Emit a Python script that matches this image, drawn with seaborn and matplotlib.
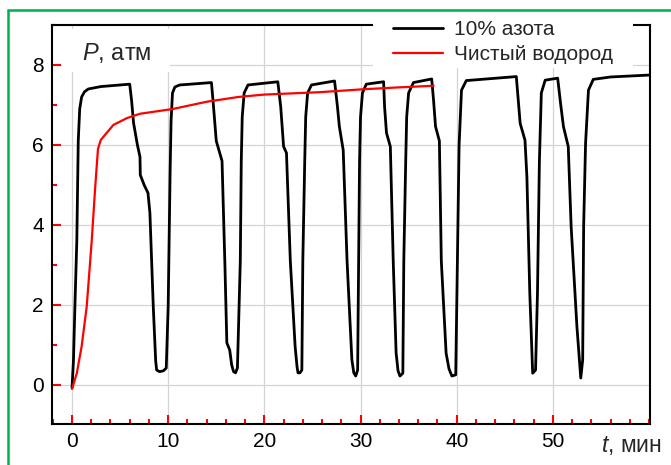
import numpy as np
import pandas as pd
import matplotlib
matplotlib.use("Agg")
import matplotlib.pyplot as plt
from matplotlib.patches import Rectangle
from matplotlib.ticker import MultipleLocator
import seaborn as sns

# Pressure during cyclic filling with a 10 % nitrogen mixture
t_nitrogen = [0.0, 0.15, 0.3, 0.5, 0.65, 0.8, 1.0, 1.3, 1.7, 3.0, 6.0,
              6.2, 6.4, 6.8, 7.07, 7.1, 7.5, 7.9, 8.1, 8.45, 8.7, 8.8, 9.1, 9.5, 9.8,
              10.0, 10.2, 10.3, 10.45, 10.7, 11.2, 14.5,
              14.7, 15.0, 15.6, 15.9, 16.1, 16.4, 16.6, 16.8, 17.0, 17.2,
              17.5, 17.6, 17.7, 17.9, 18.3, 21.4,
              21.7, 22.0, 22.3, 22.7, 23.2, 23.4, 23.5, 23.7, 23.9,
              24.0, 24.2, 24.3, 24.5, 24.9, 27.3,
              27.6, 27.8, 28.2, 28.6, 29.1, 29.3, 29.5, 29.7,
              29.8, 29.9, 30.0, 30.2, 30.6, 32.4,
              32.5, 32.7, 33.1, 33.4, 33.7, 33.9, 34.1, 34.4,
              34.5, 34.7, 34.8, 35.0, 35.5, 37.4,
              37.6, 37.8, 38.2, 38.4, 38.9, 39.2, 39.5, 39.9,
              40.1, 40.25, 40.5, 41.0, 46.2,
              46.6, 47.1, 47.3, 47.6, 47.9, 48.2,
              48.4, 48.6, 48.8, 49.2, 50.5,
              50.8, 51.1, 51.6, 51.9, 52.5, 52.9,
              53.1, 53.2, 53.4, 53.7, 54.2, 56.0, 60.2]
p_nitrogen = [-0.08, 0.6, 1.95, 3.6, 6.1, 6.9, 7.2, 7.33, 7.4, 7.46, 7.52,
              7.1, 6.55, 6.0, 5.7, 5.25, 5.0, 4.8, 4.3, 1.96, 0.6, 0.37, 0.33, 0.35, 0.42,
              1.96, 5.3, 6.6, 7.3, 7.45, 7.5, 7.56,
              7.0, 6.1, 5.6, 3.0, 1.05, 0.87, 0.5, 0.33, 0.3, 0.42,
              3.1, 5.6, 6.7, 7.3, 7.5, 7.58,
              6.96, 5.96, 5.8, 3.1, 0.96, 0.45, 0.3, 0.3, 0.37,
              3.1, 5.6, 6.7, 7.3, 7.5, 7.6,
              6.96, 6.46, 5.87, 3.1, 0.63, 0.3, 0.22, 0.37,
              3.1, 5.6, 6.7, 7.3, 7.52, 7.58,
              6.96, 6.3, 5.96, 3.1, 0.8, 0.35, 0.22, 0.29,
              3.1, 5.6, 6.7, 7.3, 7.56, 7.65,
              7.1, 6.46, 6.1, 3.1, 0.79, 0.4, 0.22, 0.25,
              3.5, 6.0, 7.37, 7.61, 7.71,
              6.54, 6.12, 5.2, 2.3, 0.29, 0.37,
              2.3, 5.6, 7.3, 7.62, 7.67,
              7.04, 6.46, 5.96, 3.96, 1.46, 0.17,
              0.62, 3.96, 6.04, 7.37, 7.64, 7.70, 7.75]

# Pressure during filling with pure hydrogen
t_hydrogen = [0.0, 0.5, 1.0, 1.53, 2.05, 2.4, 2.7, 2.98, 3.6, 4.3, 5.7, 7.07,
              10.5, 14.0, 17.3, 20.0, 25.8, 30.1, 34.0, 37.6]
p_hydrogen = [-0.1, 0.29, 0.96, 1.96, 3.6, 4.9, 5.9, 6.12, 6.3, 6.5, 6.67, 6.78,
              6.9, 7.08, 7.2, 7.26, 7.32, 7.39, 7.44, 7.48]

series_labels = ["10% азота", "Чистый водород"]
x_ticks = [0, 10, 20, 30, 40, 50]
y_ticks = [0, 2, 4, 6, 8]

sns.set_style("ticks")
plt.rcParams["font.family"] = ["Liberation Sans", "DejaVu Sans"]
plt.rcParams["mathtext.fontset"] = "custom"
plt.rcParams["mathtext.it"] = "Liberation Sans:italic"
plt.rcParams["mathtext.rm"] = "Liberation Sans"

W, H = 671, 465
fig = plt.figure(figsize=(W / 100, H / 100), dpi=100)
ax = fig.add_axes([52 / W, 1 - 424 / H, 598 / W, 399 / H])

df_n = pd.DataFrame({"t": t_nitrogen, "P": p_nitrogen})
df_h = pd.DataFrame({"t": t_hydrogen, "P": p_hydrogen})
sns.lineplot(data=df_n, x="t", y="P", ax=ax, color="black", linewidth=2.0,
             estimator=None, sort=False, label=series_labels[0], zorder=4)
sns.lineplot(data=df_h, x="t", y="P", ax=ax, color="#ff0000", linewidth=1.6,
             estimator=None, sort=False, label=series_labels[1], zorder=4)

ax.set_xlim(-2.08, 60.1)
ax.set_ylim(-0.98, 9.0)
ax.set_xticks(x_ticks)
ax.set_yticks(y_ticks)
ax.xaxis.set_minor_locator(MultipleLocator(2))
ax.yaxis.set_minor_locator(MultipleLocator(1))
ax.set_xlabel("")
ax.set_ylabel("")
ax.grid(True, which="major", color="#d4d4d4", linewidth=0.9)
ax.tick_params(which="major", direction="in", length=6.8, width=1.5,
               color="red", labelsize=15, pad=6, labelcolor="black")
ax.tick_params(which="minor", direction="in", length=3.6, width=1.5,
               color="red")
ax.tick_params(which="both", top=False, right=False, bottom=True, left=True)
for s in ax.spines.values():
    s.set_linewidth(1.5)
    s.set_color("black")

# white panels behind the axis label and the legend
ax.add_patch(Rectangle((0.017, 0.882), 0.18, 0.108, transform=ax.transAxes,
                       facecolor="white", edgecolor="none", zorder=1.5))
ax.add_patch(Rectangle((0.537, 0.892), 0.4346, 0.13, transform=ax.transAxes,
                       facecolor="white", edgecolor="none", zorder=2.6,
                       clip_on=False))

ax.text(0.050, 0.912, r"$P$, атм", transform=ax.transAxes, fontsize=17,
        ha="left", va="baseline", zorder=3)
fig.text(601 / W, 1 - 452 / H, r"$t$, мин", fontsize=16.5, ha="left",
         va="baseline")

leg = ax.legend(loc="upper left", bbox_to_anchor=(0.570, 1.012), frameon=False,
                fontsize=15, handlelength=2.4, handletextpad=0.55,
                labelspacing=0.3, borderpad=0, borderaxespad=0)
leg.set_zorder(5)

# green outer frame
fig.patches.append(Rectangle((8 / W, -0.05), 1.1, 1.05 - 10 / H,
                             transform=fig.transFigure, fill=False,
                             edgecolor="#00b050", linewidth=1.8, zorder=10))

fig.savefig("out.png", dpi=100)
